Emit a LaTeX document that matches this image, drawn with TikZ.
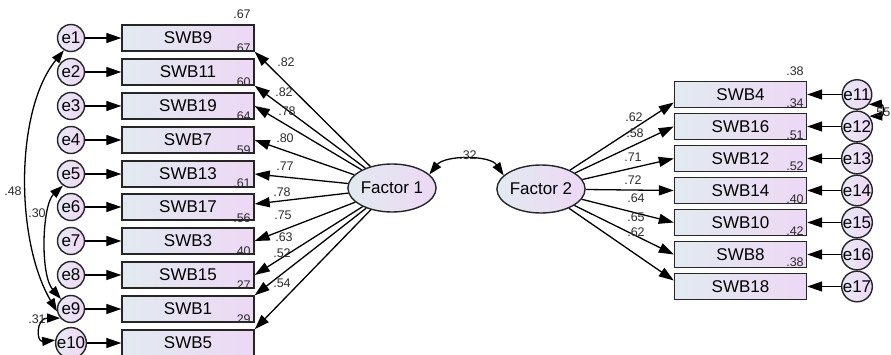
\documentclass[tikz,border=0pt]{standalone}
\usepackage{fontspec}
\setmainfont{Liberation Sans}
\usetikzlibrary{arrows.meta,shapes.geometric}
\definecolor{boxL}{RGB}{226,234,240}
\definecolor{boxR}{RGB}{237,216,245}
\definecolor{errL}{RGB}{232,232,244}
\definecolor{errR}{RGB}{238,216,246}
\definecolor{numcol}{RGB}{45,45,45}
\begin{document}
\begin{tikzpicture}[x=1pt,y=-1pt,
  obs/.style={draw=black!85, line width=1.4pt, left color=boxL, right color=boxR,
    minimum width=132pt, minimum height=26pt, inner sep=0pt,
    font=\fontsize{17}{17}\selectfont},
  err/.style={circle, draw=black!85, line width=1.4pt, left color=errL, right color=errR,
    minimum size=27pt, inner sep=0pt, font=\fontsize{17}{17}\selectfont},
  lat/.style={ellipse, draw=black!85, line width=1.4pt, left color=boxL, right color=boxR,
    minimum width=74pt, minimum height=48pt, inner sep=0pt,
    font=\fontsize{17}{17}\selectfont},
  arr/.style={line width=1.3pt, -{Triangle[length=15pt,width=10pt]}},
  cov/.style={line width=1.3pt, {Triangle[length=13pt,width=9pt]}-{Triangle[length=13pt,width=9pt]}},
  num/.style={font=\fontsize{12.5}{12.5}\selectfont, text=numcol, inner sep=0pt}
]
\useasboundingbox (0,0) rectangle (891,355);

% left side
\foreach \i/\nm/\y in {1/SWB9/38, 2/SWB11/72, 3/SWB19/106, 4/SWB7/140, 5/SWB13/174,
                       6/SWB17/207, 7/SWB3/241, 8/SWB15/275, 9/SWB1/309, 10/SWB5/343}{
  \node[obs] (b\i) at (188,\y) {\nm};
  \node[err] (e\i) at (71,\y) {e\i};
  \draw[arr] (e\i) -- (b\i);
}

% right side
\foreach \i/\nm/\y in {11/SWB4/94.5, 12/SWB16/126.5, 13/SWB12/158.5, 14/SWB14/190.5,
                       15/SWB10/222.5, 16/SWB8/254.5, 17/SWB18/286.5}{
  \node[obs] (r\i) at (740.5,\y) {\nm};
  \node[err] (e\i) at (857,\y) {e\i};
  \draw[arr] (e\i) -- (r\i);
}

% factors
\node[lat] (f1) at (392,188) {Factor 1};
\node[lat, minimum width=70pt] (f2) at (541,189) {Factor 2};

% loadings factor 1
\draw[arr] (f1) -- (b1.south east);
\draw[arr] (f1) -- (b2.south east);
\draw[arr] (f1) -- (b3.east);
\draw[arr] (f1) -- (b4.east);
\draw[arr] (f1) -- (b5.east);
\draw[arr] (f1) -- ([yshift=3pt]b6.east);
\draw[arr] (f1) -- (b7.east);
\draw[arr] (f1) -- (b8.east);
\draw[arr] (f1) -- (b9.north east);
\draw[arr] (f1) -- (b10.north east);

% loadings factor 2
\draw[arr] (f2) -- ([yshift=-8pt]r11.west);
\draw[arr] (f2) -- (r12.west);
\draw[arr] (f2) -- (r13.west);
\draw[arr] (f2) -- (r14.west);
\draw[arr] (f2) -- (r15.west);
\draw[arr] (f2) -- (r16.west);
\draw[arr] (f2) -- ([yshift=6pt]r17.west);

% covariances
\draw[cov] (f1.20) .. controls (445,155) and (490,155) .. (f2.160);
\draw[cov] (e1.240) .. controls (15,110) and (15,240) .. (e9.190);
\draw[cov] (e5.235) .. controls (42,205) and (40,275) .. (e9.135);
\draw[cov] (e9.220) .. controls (36,318) and (36,342) .. (e10.170);
\draw[cov] (e11.-40) .. controls (884,104) and (884,116) .. (e12.40);

% covariance labels
\node[num] (c48) at (13,191) {.48};
\node[num] (c30) at (37,213) {.30};
\node[num] (c31) at (37,319) {.31};
\node[num] (c32) at (468,155) {.32};
\node[num, anchor=east] (c55) at (890.5,112) {.55};

% left loadings labels
\foreach \v/\x/\y [count=\k] in {.82/286/62, .82/284/92, .78/287/111, .80/285/138, .77/285/166,
                     .78/282/192, .75/283/215, .63/284/237, .52/282/253, .54/282/283}{
  \node[num] (ll\k) at (\x,\y) {\v};
}
% left R2 labels
\foreach \v/\y [count=\k] in {.67/14, .67/48, .60/82, .64/116, .59/150, .61/183,
                     .56/218, .40/251, .27/285, .29/319}{
  \node[num] (lr\k) at (242,\y) {\v};
}
% right loadings labels
\foreach \v/\x/\y [count=\k] in {.62/634/117, .58/635/133, .71/633/157, .72/633/180,
                     .64/636/198, .65/636/217, .62/636/232}{
  \node[num] (rl\k) at (\x,\y) {\v};
}
% right R2 labels
\foreach \v/\y [count=\k] in {.38/71, .34/103, .51/135, .52/166, .40/199, .42/231, .38/262}{
  \node[num] (rr\k) at (795,\y) {\v};
}
\end{tikzpicture}
\end{document}
